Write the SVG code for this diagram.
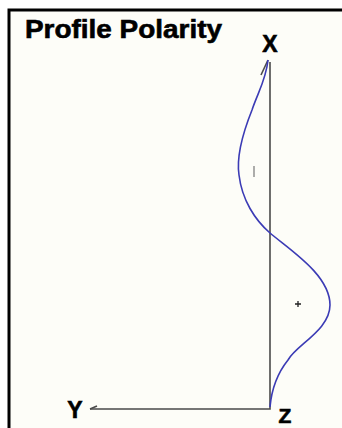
<svg xmlns="http://www.w3.org/2000/svg" width="342" height="428" viewBox="0 0 342 428">
  <style>
    .lbl { font-family: "Liberation Sans", Arial, sans-serif; font-weight: bold; fill: #000; stroke: #000; stroke-width: 0.6; }
    .axis { fill: none; stroke: #4a4a4a; stroke-width: 1.6; }
    .curve { fill: none; stroke: #3b3bb5; stroke-width: 1.6; }
  </style>
  <rect x="0" y="0" width="342" height="428" fill="#ffffff"/>
  <rect x="9" y="10" width="333" height="418" fill="#fdfdf8"/>
  <path d="M9 428 V10 H342" fill="none" stroke="#000" stroke-width="3"/>
  <text class="lbl" x="25" y="38" font-size="25" textLength="197" lengthAdjust="spacingAndGlyphs">Profile Polarity</text>

  <g id="connectors">
    <path class="axis" d="M270 62 V409 H90"/>
    <path class="axis" d="M97 406 L90 409"/>
    <path class="axis" d="M261 75 L268 60"/>
  </g>

  <g id="curve">
    <path class="curve" d="M268,60 C266,80 258,92 252,110 C244,130 236,155 239,175 C242,200 255,220 270,233 C290,250 330,275 330,305 C330,330 296,345 288,360 C280,370 272,385 270,407"/>
    <path d="M254 166 V177" stroke="#777" stroke-width="1.2"/>
    <path d="M295 304 H301 M298 301 V307" stroke="#222" stroke-width="1.3"/>
  </g>

  <g id="X"><text class="lbl" x="270" y="52" font-size="23" text-anchor="middle">X</text></g>
  <g id="Y"><text class="lbl" x="75" y="418" font-size="23" text-anchor="middle">Y</text></g>
  <g id="Z"><text class="lbl" x="285" y="423" font-size="21" text-anchor="middle">Z</text></g>
</svg>
